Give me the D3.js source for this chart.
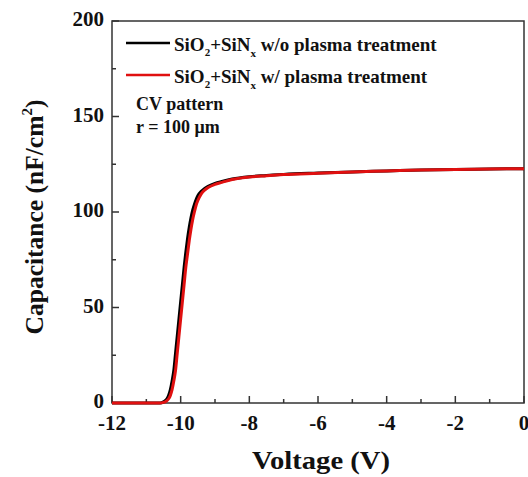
<!DOCTYPE html>
<html><head><meta charset="utf-8">
<script src="https://cdn.jsdelivr.net/npm/d3@7/dist/d3.min.js"></script>
<style>body{margin:0;background:#fff}svg{display:block}</style>
</head><body><svg id="c" width="528" height="477"></svg>
<script>
const voltage = [-12,-11,-10.6,-10.5,-10.45,-10.4,-10.35,-10.3,-10.25,-10.2,-10.15,-10.1,-10.05,-10.0,-9.95,-9.9,-9.85,-9.8,-9.75,-9.7,-9.65,-9.6,-9.55,-9.5,-9.4,-9.3,-9.2,-9.0,-8.8,-8.5,-8.0,-7.5,-7,-6,-5,-4,-3,-2,-1,0];
const capWithout = [0,0,0,0.6,1.2,2.2,4,7,11.5,17,26,35,44,53,62,71,79,86,92,97,101,104,106.5,108.5,110.8,112.3,113.4,115,116,117.3,118.5,119.1,119.7,120.4,121,121.5,122,122.3,122.5,122.7];
const capWith = [0,0,0,0.3,0.6,1.2,2.2,4,7,11.5,17,26,35,44,53,62,71,78,85,91,96,100,103.5,106,109.5,111.5,112.8,114.5,115.5,117,118.3,119,119.6,120.3,121,121.5,122,122.3,122.5,122.7];
const seriesNames = ["w/o plasma treatment","w/ plasma treatment"];
const seriesColors = ["#000000","#e01010"];
const xTicks = [-12,-10,-8,-6,-4,-2,0];
const yTicks = [0,50,100,150,200];

const FONT = '"Liberation Serif","Times New Roman",Tinos,"DejaVu Serif",serif';
const svg = d3.select("#c");
const L=112,R=524,T=21,B=403;
const x = d3.scaleLinear().domain([-12,0]).range([L,R]);
const y = d3.scaleLinear().domain([0,200]).range([B,T]);
const axisColor="#333";

function txt(sel){ return sel.append("text").attr("font-family",FONT).attr("font-weight","bold").attr("fill","#111"); }

svg.append("rect").attr("x",L).attr("y",T).attr("width",R-L).attr("height",B-T)
  .attr("fill","none").attr("stroke",axisColor).attr("stroke-width",1.5);

const gx = svg.append("g");
d3.range(-12,0.01,1).forEach(v=>{
  const major = v%2===0;
  gx.append("line").attr("x1",x(v)).attr("x2",x(v)).attr("y1",B).attr("y2",B-(major?7:4))
    .attr("stroke",axisColor).attr("stroke-width",1.5);
});
xTicks.forEach(v=>{
  txt(gx).attr("x",x(v)).attr("y",B+27).attr("text-anchor","middle").attr("font-size",21).text(v);
});
const gy = svg.append("g");
d3.range(0,200.1,25).forEach(v=>{
  const major = v%50===0;
  gy.append("line").attr("x1",L).attr("x2",L+(major?7:4)).attr("y1",y(v)).attr("y2",y(v))
    .attr("stroke",axisColor).attr("stroke-width",1.5);
});
yTicks.forEach(v=>{
  txt(gy).attr("x",L-8).attr("y",y(v)+5).attr("text-anchor","end").attr("font-size",21).text(v);
});

const line = d3.line().x((d,i)=>x(voltage[i])).y(d=>y(d)).curve(d3.curveMonotoneX);
[capWithout,capWith].forEach((s,k)=>{
  svg.append("path").attr("d",line(s)).attr("fill","none")
    .attr("stroke",seriesColors[k]).attr("stroke-width",3);
});

const legY=[43,75];
legY.forEach((ly,k)=>{
  svg.append("line").attr("x1",126).attr("x2",170).attr("y1",ly).attr("y2",ly)
    .attr("stroke",seriesColors[k]).attr("stroke-width",2.5);
  const t = txt(svg).attr("x",174).attr("y",ly+8).attr("font-size",19);
  t.append("tspan").text("SiO");
  t.append("tspan").attr("font-size",11).attr("dy",5).text("2");
  t.append("tspan").attr("dy",-5).text("+SiN");
  t.append("tspan").attr("font-size",11).attr("dy",6).text("x");
  t.append("tspan").attr("dy",-6).text(" "+seriesNames[k]);
});
txt(svg).attr("x",136).attr("y",110).attr("font-size",18).text("CV pattern");
txt(svg).attr("x",136).attr("y",133).attr("font-size",18).text("r = 100 μm");

txt(svg).attr("x",252).attr("y",469).attr("font-size",25)
  .attr("textLength",138).attr("lengthAdjust","spacingAndGlyphs").text("Voltage (V)");
const yt = txt(svg).attr("transform","translate(43,217) rotate(-90)")
  .attr("text-anchor","middle").attr("font-size",25.5);
yt.append("tspan").text("Capacitance (nF/cm");
yt.append("tspan").attr("font-size",15).attr("dy",-11).text("2");
yt.append("tspan").attr("dy",11).text(")");
</script></body></html>
